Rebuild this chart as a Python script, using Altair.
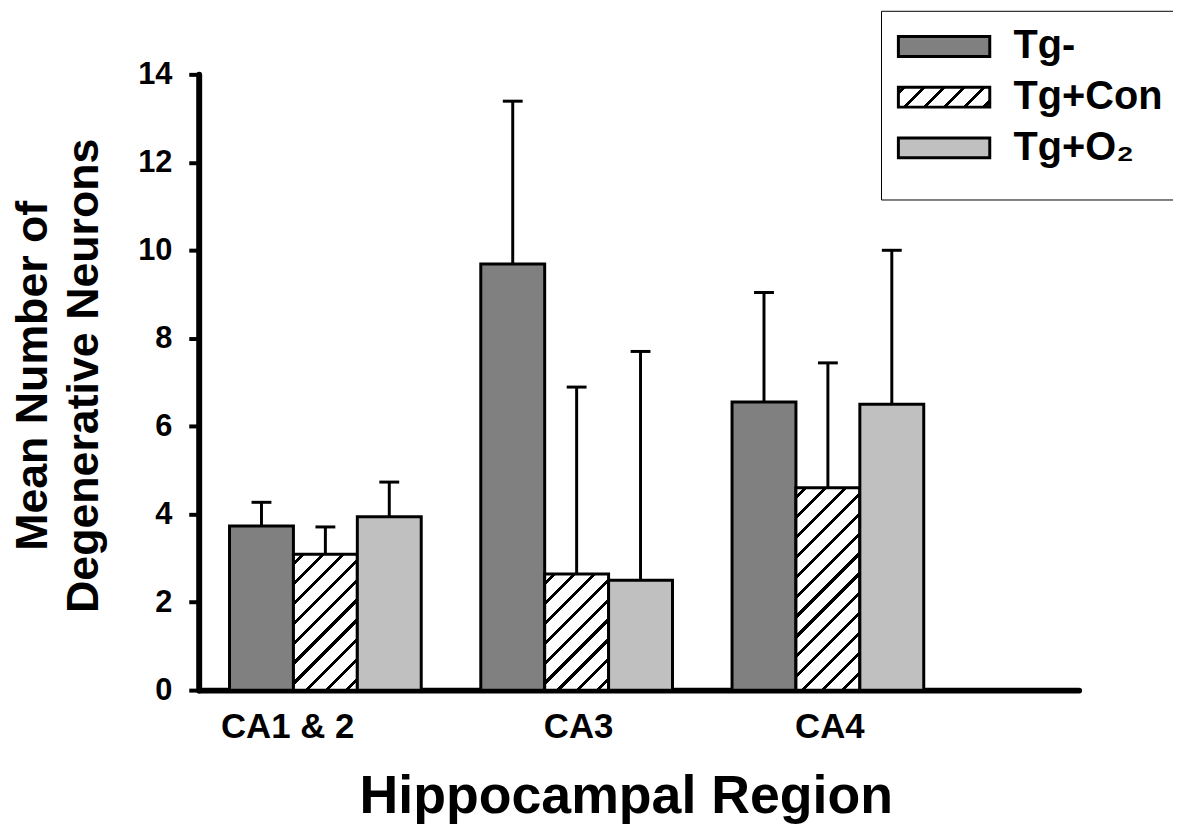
import json
import altair as alt
import pandas as pd

# ---------------- data ----------------
regions = ["CA1 & 2", "CA3", "CA4"]
series = ["Tg-", "Tg+Con", "Tg+O₂"]
mean_tg_minus = [3.73, 9.69, 6.55]
mean_tg_con = [3.09, 2.64, 4.60]
mean_tg_o2 = [3.94, 2.50, 6.50]
se_tg_minus = [0.54, 3.70, 2.49]
se_tg_con = [0.62, 4.25, 2.84]
se_tg_o2 = [0.79, 5.20, 3.50]
y_ticks = [0, 2, 4, 6, 8, 10, 12, 14]
fills = ["#808080", "#ffffff", "#c0c0c0"]

rows = []
for s, means, ses in zip(series, [mean_tg_minus, mean_tg_con, mean_tg_o2],
                         [se_tg_minus, se_tg_con, se_tg_o2]):
    for r, m, e in zip(regions, means, ses):
        rows.append({"region": r, "series": s, "mean": m, "se": e})
df = pd.DataFrame(rows)

# ---------------- layout ----------------
PLOT_W, PLOT_H = 886, 620
YMAX = 14
P_INNER, P_OUTER, ALIGN = 0.237, 0.3696, 0.166
FONT = "Liberation Sans"

step = PLOT_W / (len(regions) - P_INNER + 2 * P_OUTER)
bar_w = step * (1 - P_INNER) / len(series)
px_per_unit = PLOT_H / YMAX


def hatch(w, h, spacing=20.0, thick=4.3, phase=8.0):
    """Diagonal '/' hatch as a linear gradient in bounding-box units."""
    c = (1 / h + 1 / w) / (1 / h ** 2 + 1 / w ** 2)
    S = w + h
    stops = [{"offset": 0, "color": "white"}]
    k = 0
    while True:
        a = (phase + k * spacing) / S
        if a >= 1:
            break
        b = min(a + thick / S, 1)
        a = round(a, 5)
        b = round(b, 5)
        stops += [
            {"offset": a, "color": "white"},
            {"offset": a, "color": "black"},
            {"offset": b, "color": "black"},
            {"offset": b, "color": "white"},
        ]
        k += 1
    stops.append({"offset": 1, "color": "white"})
    return {"gradient": "linear", "x1": 0, "y1": 0,
            "x2": round(c / h, 6), "y2": round(c / w, 6), "stops": stops}


conditions = []
for r, m in zip(regions, mean_tg_con):
    conditions.append({
        "test": f"datum.series === 'Tg+Con' && datum.region === '{r}'",
        "value": hatch(bar_w, m * px_per_unit),
    })

legend_hatch = hatch(92, 20, spacing=20, thick=4.3, phase=4)
fill_range = [fills[0], {"expr": json.dumps(legend_hatch)}, fills[2]]

legend = alt.Legend(
    title=" ",
    titleOrient="bottom",
    titleFontSize=4,
    titlePadding=12,
    orient="none",
    legendX=687,
    legendY=-64,
    direction="vertical",
    symbolType="M-4.6,-1H4.6V1H-4.6Z",
    symbolSize=400,
    symbolOffset=27.5,
    symbolStrokeColor="black",
    symbolStrokeWidth=3,
    symbolOpacity=1,
    labelFont=FONT,
    labelFontSize=40,
    labelFontWeight="bold",
    labelColor="black",
    labelOffset=50,
    labelLimit=0,
    rowPadding=11,
    padding=16,
    strokeColor="black",
    fillColor="white",
)

x_enc = alt.X(
    "region:N",
    scale=alt.Scale(domain=regions, paddingInner=P_INNER,
                    paddingOuter=P_OUTER, align=ALIGN),
    axis=alt.Axis(
        title="Hippocampal Region",
        titleFont=FONT, titleFontSize=54, titleFontWeight="bold",
        titleColor="black",
        titleX=430, titleY=123, titleAlign="center",
        titleBaseline="alphabetic",
        labelFont=FONT, labelFontSize=35, labelFontWeight="bold",
        labelColor="black", labelAngle=0, labelPadding=20,
        labelOffset={"condition": {"test": "datum.value === 'CA1 & 2'",
                                   "value": -38}, "value": 2},
        ticks=False, tickSize=0,
        domainColor="black", domainWidth=6, domainCap="round",
    ),
)

y_scale = alt.Scale(domain=[0, YMAX], nice=False)
y_axis = alt.Axis(
    title=["Mean Number of", "Degenerative Neurons"],
    titleFont=FONT, titleFontSize=45, titleFontWeight="bold",
    titleColor="black", titleLineHeight=51,
    titleAngle=270, titleX=-153, titleY=303, titleAlign="center",
    titleBaseline="alphabetic",
    values=y_ticks, labelFont=FONT, labelFontSize=31, labelFontWeight="bold",
    labelColor="black", labelPadding=17,
    tickSize=10, tickWidth=4, tickColor="black",
    domainColor="black", domainWidth=6, domainCap="round",
    grid=False,
)

x_off = alt.XOffset("series:N",
                    scale=alt.Scale(domain=series, paddingInner=0, paddingOuter=0))

base = alt.Chart(df).encode(x=x_enc, xOffset=x_off)

bars = base.mark_bar(stroke="black", strokeWidth=3, strokeJoin="miter").encode(
    y=alt.Y("mean:Q", scale=y_scale, axis=y_axis, stack=None),
    fill={
        "field": "series",
        "type": "nominal",
        "scale": {"domain": series, "range": fill_range},
        "legend": legend.to_dict(),
        "condition": conditions,
    },
)

err = base.transform_calculate(top="datum.mean + datum.se")

stems = err.mark_rule(color="black", strokeWidth=3).encode(
    y=alt.Y("mean:Q", scale=y_scale), y2="top:Q"
)
caps = err.mark_tick(color="black", thickness=3, size=20, opacity=1).encode(
    y=alt.Y("top:Q", scale=y_scale)
)

chart = (
    alt.layer(bars, stems, caps)
    .properties(
        width=PLOT_W,
        height=PLOT_H,
        padding={"left": 192, "top": 64, "right": 95, "bottom": 134},
        autosize=alt.AutoSizeParams(type="none"),
    )
    .configure(font=FONT)
    .configure_view(stroke="transparent", strokeWidth=0)
    .configure_axis(grid=False)
)

chart.save("out.html", embed_options={"renderer": "svg", "actions": False})
